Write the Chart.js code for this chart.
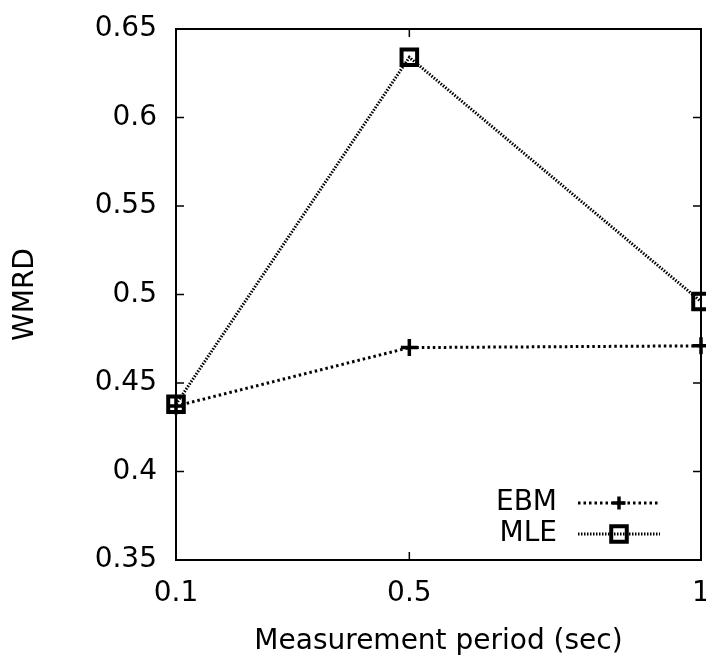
<!DOCTYPE html>
<html><head><meta charset="utf-8">
<script src="https://cdn.jsdelivr.net/npm/chart.js@4/dist/chart.umd.min.js"></script>
<style>html,body{margin:0;padding:0;background:#fff;overflow:hidden}#wrap{width:706px;height:661px;position:relative;overflow:hidden}canvas{display:block}</style>
</head><body><div id="wrap"><canvas id="c" width="716" height="661"></canvas></div>
<script>
const periods = [0.1, 0.5, 1];
const ebmValues = [0.437, 0.470, 0.471];
const mleValues = [0.438, 0.634, 0.496];
const xTickValues = [0.1, 0.5, 1];
const yTickValues = [0.35, 0.4, 0.45, 0.5, 0.55, 0.6, 0.65];
const seriesNames = ['EBM', 'MLE'];
const xTitle = 'Measurement period (sec)';
const yTitle = 'WMRD';

const FONT = {family: '"DejaVu Sans", sans-serif', size: 28};
const styles = [
  {dash: [2.5, 3], width: 3, point: 'cross', radius: 8.5, pbw: 3.5},
  {dash: [1.5, 1.5], width: 3, point: 'rect', radius: 11, pbw: 4}
];

function drawMarker(ctx, style, x, y, r, bw) {
  ctx.save();
  ctx.setLineDash([]);
  ctx.strokeStyle = '#000';
  ctx.lineWidth = bw;
  ctx.beginPath();
  if (style === 'cross') {
    ctx.moveTo(x - r, y); ctx.lineTo(x + r, y);
    ctx.moveTo(x, y - r); ctx.lineTo(x, y + r);
  } else {
    const s = Math.SQRT1_2 * r;
    ctx.rect(x - s, y - s, 2 * s, 2 * s);
  }
  ctx.stroke();
  ctx.restore();
}

const framePlugin = {
  id: 'frame',
  beforeDatasetsDraw(chart) {
    const {ctx, chartArea: a, scales} = chart;
    ctx.save();
    ctx.strokeStyle = '#000';
    ctx.lineWidth = 2;
    ctx.strokeRect(a.left, a.top, a.right - a.left, a.bottom - a.top);
    ctx.lineWidth = 1.5;
    const tl = 8;
    ctx.beginPath();
    xTickValues.forEach(v => {
      const px = scales.x.getPixelForValue(v);
      ctx.moveTo(px, a.bottom); ctx.lineTo(px, a.bottom - tl);
      ctx.moveTo(px, a.top); ctx.lineTo(px, a.top + tl);
    });
    yTickValues.forEach(v => {
      const py = scales.y.getPixelForValue(v);
      ctx.moveTo(a.left, py); ctx.lineTo(a.left + tl, py);
      ctx.moveTo(a.right, py); ctx.lineTo(a.right - tl, py);
    });
    ctx.stroke();
    ctx.restore();
  }
};

const legendPlugin = {
  id: 'gpLegend',
  afterDraw(chart) {
    const {ctx, chartArea: a} = chart;
    const textRight = a.right - 144;
    const x0 = a.right - 123, x1 = a.right - 41, xm = (x0 + x1) / 2;
    const ys = [a.top + 474, a.top + 505];
    ctx.save();
    ctx.font = '28px "DejaVu Sans", sans-serif';
    ctx.fillStyle = '#000';
    ctx.textAlign = 'right';
    ctx.textBaseline = 'middle';
    seriesNames.forEach((name, i) => {
      const st = styles[i];
      ctx.fillText(name, textRight, ys[i]);
      ctx.strokeStyle = '#000';
      ctx.lineWidth = st.width;
      ctx.setLineDash(st.dash);
      ctx.beginPath();
      ctx.moveTo(x0, ys[i]); ctx.lineTo(x1, ys[i]);
      ctx.stroke();
      drawMarker(ctx, st.point, xm, ys[i], i === 0 ? 6.5 : st.radius, st.pbw);
    });
    ctx.restore();
  }
};

const seriesData = [ebmValues, mleValues];
const datasets = seriesNames.map((name, i) => ({
  label: name,
  data: periods.map((x, j) => ({x: x, y: seriesData[i][j]})),
  borderColor: '#000',
  backgroundColor: 'rgba(0,0,0,0)',
  borderWidth: styles[i].width,
  borderDash: styles[i].dash,
  pointStyle: styles[i].point,
  pointRadius: styles[i].radius,
  pointBorderWidth: styles[i].pbw,
  pointBorderColor: '#000',
  pointBackgroundColor: 'rgba(0,0,0,0)',
  tension: 0,
  fill: false,
  clip: false
}));

function zeroPad(s, keys) {
  keys.forEach(k => { s['padding' + k] = 0; if (s._margins) s._margins[k.toLowerCase()] = 0; });
}

new Chart(document.getElementById('c').getContext('2d'), {
  type: 'line',
  data: {datasets: datasets},
  options: {
    responsive: false,
    animation: false,
    devicePixelRatio: 1,
    layout: {padding: {left: 0, top: 29, right: 0, bottom: 0}},
    plugins: {legend: {display: false}, tooltip: {enabled: false}},
    scales: {
      x: {
        type: 'linear', min: 0.1, max: 1,
        afterBuildTicks: s => { s.ticks = xTickValues.map(v => ({value: v})); },
        afterFit: s => { s.height = 101; zeroPad(s, ['Left', 'Right']); },
        grid: {display: false, drawTicks: false},
        border: {display: false},
        ticks: {color: '#000', font: FONT, padding: 17, autoSkip: false, maxRotation: 0, callback: v => String(v)},
        title: {display: true, text: xTitle, color: '#000', font: FONT, padding: {top: 0, bottom: 2}}
      },
      y: {
        type: 'linear', min: 0.35, max: 0.65,
        afterBuildTicks: s => { s.ticks = yTickValues.map(v => ({value: v})); },
        afterFit: s => { s.width = 176; zeroPad(s, ['Top', 'Bottom']); },
        grid: {display: false, drawTicks: false},
        border: {display: false},
        ticks: {color: '#000', font: FONT, padding: 19, autoSkip: false, callback: v => String(v)},
        title: {display: true, text: yTitle, color: '#000', font: FONT, padding: {top: 9, bottom: 0}}
      }
    }
  },
  plugins: [framePlugin, legendPlugin]
});
</script>
</body></html>
